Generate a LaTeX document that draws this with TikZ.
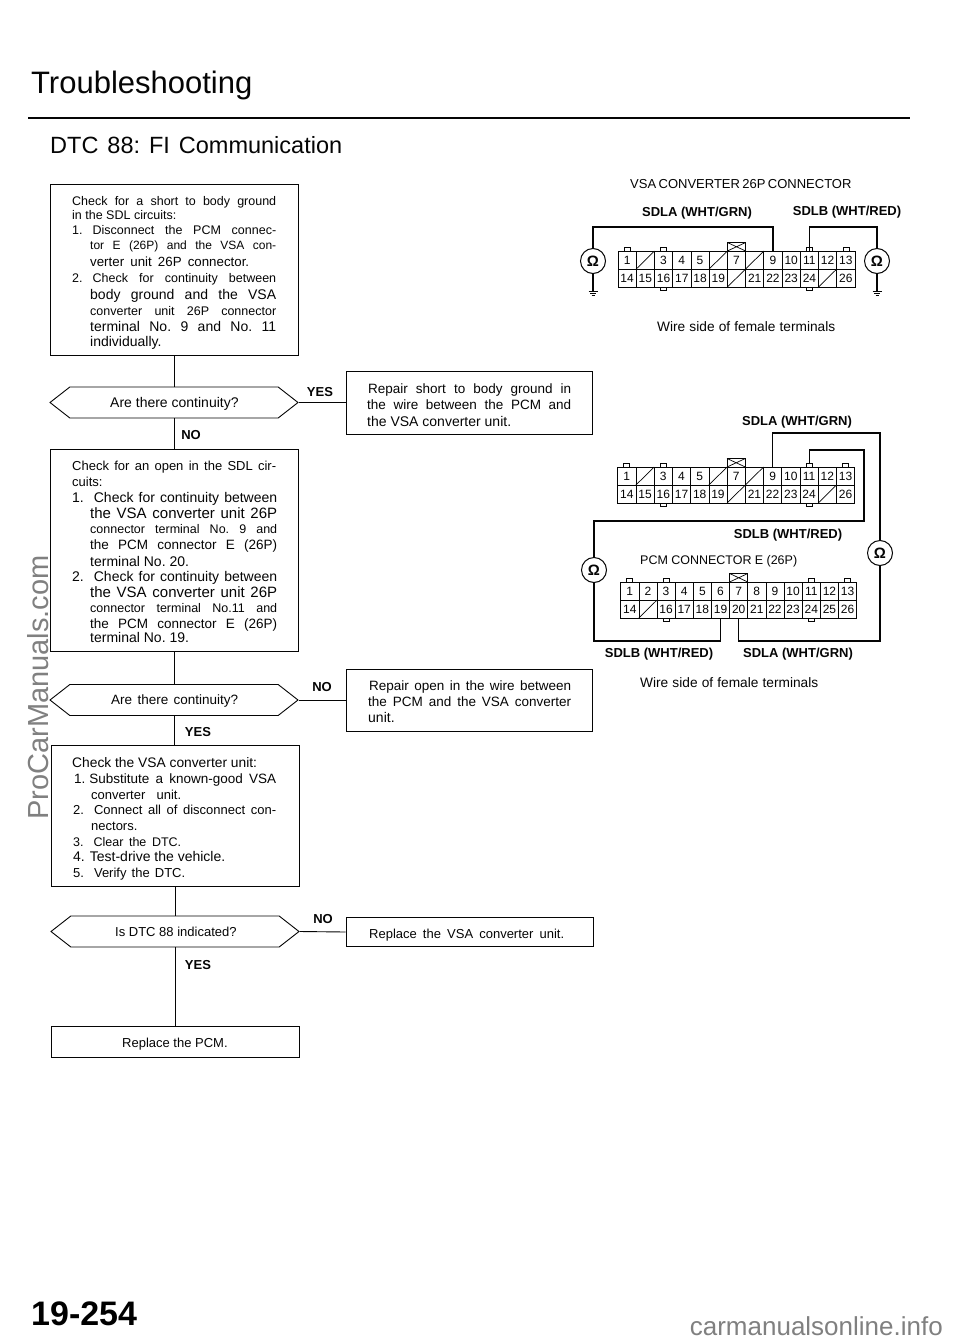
\documentclass[tikz,border=0pt]{standalone}
\usepackage{fontspec}
\setmainfont{Liberation Sans}
\usetikzlibrary{shapes.symbols}
\definecolor{ink}{gray}{0.02}
\newcounter{lnc}
\newcommand{\Ln}[5]{\stepcounter{lnc}\node[txt,font=\fontsize{#4}{#4}\selectfont\frenchspacing] (ln\thelnc) at (#1,#2) {\ifdim#3pt>0pt \makebox[#3pt][s]{#5}\else #5\fi};}
\newcommand{\Lb}[3]{\stepcounter{lnc}\node[lab] (ln\thelnc) at (#1,#2) {#3};}
\newcommand{\Nm}{\hspace{10pt}}
\tikzset{
 x=1pt,y=-1pt,
 txt/.style={anchor=base west,inner sep=0pt,text=ink},
 lab/.style={inner sep=0pt,text=ink,font=\fontsize{13}{13}\selectfont\bfseries},
 box/.style={draw=ink,line width=0.9pt,inner sep=0pt,minimum width=#1},
 hex/.style={draw=ink,line width=0.9pt,shape=signal,signal to=west and east,signal pointer angle=76,inner sep=0pt,minimum height=31pt,minimum width=248pt},
 link/.style={draw=ink,line width=0.9pt},
 wire/.style={draw=ink,line width=1.1pt},
 cell/.style={draw=ink,line width=0.7pt},
 cellbox/.style={cell,inner sep=0pt,outer sep=0pt,minimum height=18pt,text=ink,font=\fontsize{12}{12}\selectfont},
 tabbox/.style={cell,fill=white,inner sep=0pt,outer sep=0pt,minimum width=6pt,minimum height=3.5pt},
 keybox/.style={cell,fill=white,inner sep=0pt,outer sep=0pt,minimum height=8.5pt},
 ohm/.style={draw=ink,circle,line width=1pt,fill=white,minimum size=25pt,inner sep=0pt,text=ink,font=\fontsize{15}{15}\selectfont\bfseries},
}
% name, x0, y0, cell width, row 1, row 2 (0 = struck-out cell)
\newcommand{\Conn}[6]{%
 \foreach \t [count=\i] in {#5} {
  \pgfmathsetmacro\cx{#2+(\i-.5)*#4}
  \node[cellbox,minimum width=#4pt] (#1t\i) at (\cx,{#3+9}) {\ifnum\t=0 \else\t\fi};
  \ifnum\t=0 \draw[cell] (#1t\i.south west) -- (#1t\i.north east);\fi
 }
 \foreach \t [count=\i] in {#6} {
  \pgfmathsetmacro\cx{#2+(\i-.5)*#4}
  \node[cellbox,minimum width=#4pt] (#1b\i) at (\cx,{#3+27}) {\ifnum\t=0 \else\t\fi};
  \ifnum\t=0 \draw[cell] (#1b\i.south west) -- (#1b\i.north east);\fi
 }
 \foreach \i in {1,3,11,13} {\node[tabbox,anchor=south] (#1p\i) at (#1t\i.north) {};}
 \foreach \i in {3,11} {\node[tabbox,anchor=north] (#1q\i) at (#1b\i.south) {};}
 \node[keybox,minimum width=#4pt,anchor=south] (#1k) at (#1t7.north) {};
 \draw[cell] (#1k.south west) -- (#1k.north east) (#1k.north west) -- (#1k.south east);
}
\newcommand{\Gnd}[1]{%
 \draw[cell] ([xshift=-4.5pt]#1) -- ([xshift=4.5pt]#1)
  ([xshift=-3pt,yshift=-2pt]#1) -- ([xshift=3pt,yshift=-2pt]#1)
  ([xshift=-1.5pt,yshift=-4pt]#1) -- ([xshift=1.5pt,yshift=-4pt]#1);
}
\begin{document}
\begin{tikzpicture}
\useasboundingbox (0,0) rectangle (960,1344);
\fill[white] (0,0) rectangle (960,1344);
% header
\Ln{31}{93}{222}{31}{Troubleshooting}
\node[inner sep=0pt,minimum width=882pt,minimum height=2pt,fill=ink] (rule) at (469,118) {};
\Ln{50}{153}{292}{23.5}{DTC 88: FI Communication}
% boxes
\node[box=248pt,minimum height=171pt] (b1) at (174,269.5) {};
\node[hex] (h1) at (174,402.5) {};
\node[box=246pt,minimum height=63pt] (r1) at (469,402.5) {};
\node[box=248pt,minimum height=202pt] (b2) at (174,550) {};
\node[hex] (h2) at (174,700) {};
\node[box=246pt,minimum height=62pt] (r2) at (469,700) {};
\node[box=248pt,minimum height=141pt] (b3) at (175,815.5) {};
\node[hex] (h3) at (175,931.5) {};
\node[box=247pt,minimum height=29pt] (r3) at (469.5,932) {};
\node[box=248pt,minimum height=31pt] (b4) at (175,1041.5) {};
\draw[link] (b1.south) -- (h1.north);
\draw[link] (h1.south) -- (b2.north);
\draw[link] (b2.south) -- (h2.north);
\draw[link] (h2.south) -- (h2.south |- b3.north);
\draw[link] (b3.south) -- (h3.north);
\draw[link] (h3.south) -- (b4.north);
\draw[link] (h1.east) -- (r1.west);
\draw[link] (h2.east) -- (r2.west);
\draw[link] (h3.east) -- (r3.west);
% labels
\Lb{320}{392}{YES}\Lb{191}{435}{NO}\Lb{322}{687}{NO}\Lb{198}{732}{YES}\Lb{323}{919}{NO}\Lb{198}{965}{YES}
% box 1
\Ln{72}{205}{204}{12.5}{Check for a short to body ground}
\Ln{72}{219}{0}{12.5}{in the SDL circuits:}
\Ln{72}{234}{204}{12.5}{1.\Nm Disconnect the PCM connec-}
\Ln{90}{249}{186}{12}{tor E (26P) and the VSA con-}
\Ln{90}{266}{159}{13.3}{verter unit 26P connector.}
\Ln{72}{282}{204}{12.5}{2.\Nm Check for continuity between}
\Ln{90}{299}{186}{14}{body ground and the VSA}
\Ln{90}{315}{186}{12.5}{converter unit 26P connector}
\Ln{90}{331}{186}{14}{terminal No. 9 and No. 11}
\Ln{90}{346}{0}{14}{individually.}
\Ln{110}{407}{0}{14}{Are there continuity?}
% repair 1
\Ln{368}{393}{203}{13.5}{Repair short to body ground in}
\Ln{367}{409}{204}{13.5}{the wire between the PCM and}
\Ln{367}{426}{0}{14}{the VSA converter unit.}
% box 2
\Ln{72}{470}{204}{13}{Check for an open in the SDL cir-}
\Ln{72}{486}{0}{13}{cuits:}
\Ln{72}{502}{205}{14}{1.\Nm Check for continuity between}
\Ln{90}{518}{187}{15}{the VSA converter unit 26P}
\Ln{90}{533}{187}{12.5}{connector terminal No. 9 and}
\Ln{90}{549}{187}{13.5}{the PCM connector E (26P)}
\Ln{90}{566}{0}{14}{terminal No. 20.}
\Ln{72}{581}{205}{14}{2.\Nm Check for continuity between}
\Ln{90}{597}{187}{15}{the VSA converter unit 26P}
\Ln{90}{612}{187}{12.5}{connector terminal No.11 and}
\Ln{90}{628}{187}{13.5}{the PCM connector E (26P)}
\Ln{90}{642}{0}{14}{terminal No. 19.}
\Ln{111}{704}{127}{13.5}{Are there continuity?}
% repair 2
\Ln{369}{690}{202}{13.5}{Repair open in the wire between}
\Ln{368}{706}{203}{13.5}{the PCM and the VSA converter}
\Ln{368}{722}{0}{14}{unit.}
% box 3
\Ln{72}{767}{0}{13.8}{Check the VSA converter unit:}
\Ln{74}{783}{202}{13.5}{1.\hspace{4pt}Substitute a known-good VSA}
\Ln{91}{799}{90}{13}{converter unit.}
\Ln{73}{814}{203}{13}{2.\Nm Connect all of disconnect con-}
\Ln{91}{830}{0}{13}{nectors.}
\Ln{73}{846}{108}{12.5}{3.\Nm Clear the DTC.}
\Ln{73}{861}{0}{14}{4.\hspace{5pt}Test-drive the vehicle.}
\Ln{73}{877}{112}{13}{5.\Nm Verify the DTC.}
\Ln{115}{936}{0}{13}{Is DTC 88 indicated?}
\Ln{369}{938}{195}{13}{Replace the VSA converter unit.}
\Ln{122}{1047}{0}{13}{Replace the PCM.}
% right side texts
\Ln{630}{188}{220}{13}{VSA CONVERTER 26P CONNECTOR}
\Ln{657}{331}{178}{13.7}{Wire side of female terminals}
\Ln{640}{564}{157}{12.5}{PCM CONNECTOR E (26P)}
\Ln{640}{687}{178}{13.7}{Wire side of female terminals}
\Lb{697}{213}{SDLA (WHT/GRN)}\Lb{847}{212}{SDLB (WHT/RED)}
\Lb{797}{422}{SDLA (WHT/GRN)}\Lb{788}{535}{SDLB (WHT/RED)}
\Lb{659}{654}{SDLB (WHT/RED)}\Lb{798}{654}{SDLA (WHT/GRN)}
% connectors
\Conn{A}{618}{251}{18.23}{1,0,3,4,5,0,7,0,9,10,11,12,13}{14,15,16,17,18,19,0,21,22,23,24,0,26}
\Conn{B}{617.7}{467}{18.23}{1,0,3,4,5,0,7,0,9,10,11,12,13}{14,15,16,17,18,19,0,21,22,23,24,0,26}
\Conn{C}{620.7}{582}{18.15}{1,2,3,4,5,6,7,8,9,10,11,12,13}{14,0,16,17,18,19,20,21,22,23,24,25,26}
% ohmmeters
\node[ohm] (oa) at (593,261) {Ω};
\node[ohm] (ob) at (877,261) {Ω};
\node[ohm] (oc) at (594,570) {Ω};
\node[ohm] (od) at (880,553) {Ω};
\coordinate (ga) at (593,291);
\coordinate (gb) at (877,291);
\coordinate (ka) at (700,227);
\coordinate (kb) at (840,227);
\coordinate (kc) at (830,433);
\coordinate (kd) at (840,450);
\coordinate (ke) at (864,521);
\coordinate (kg) at (650,641);
\coordinate (kh) at (800,641);
\draw[wire] (oa.south) -- (ga);
\draw[wire] (ob.south) -- (gb);
\Gnd{ga}\Gnd{gb}
\draw[wire] (oa.north) |- (ka) -| (At9.north);
\draw[wire] (ob.north) |- (kb) -| (At11.north);
\draw[wire] (Bt9.north) |- (kc) -| (od.north);
\draw[wire] (od.south) |- (kh) -| (Cb7.south);
\draw[wire] (Bp11.north) |- (kd) -| (ke) -| (oc.north);
\draw[wire] (oc.south) |- (kg) -| (Cb6.south);
% footer
\node[anchor=base west,inner sep=0pt,text=black,font=\fontsize{34}{34}\selectfont\bfseries] (pg) at (31,1325) {19-254};
\node[anchor=base west,rotate=90,inner sep=0pt,text=black!50,font=\fontsize{29}{29}\selectfont] (wm) at (48.5,820) {ProCarManuals.com};
\node[anchor=base east,inner sep=0pt,text=black!50,font=\fontsize{26}{26}\selectfont] (ws) at (943,1335) {carmanualsonline.info};
\end{tikzpicture}
\end{document}
